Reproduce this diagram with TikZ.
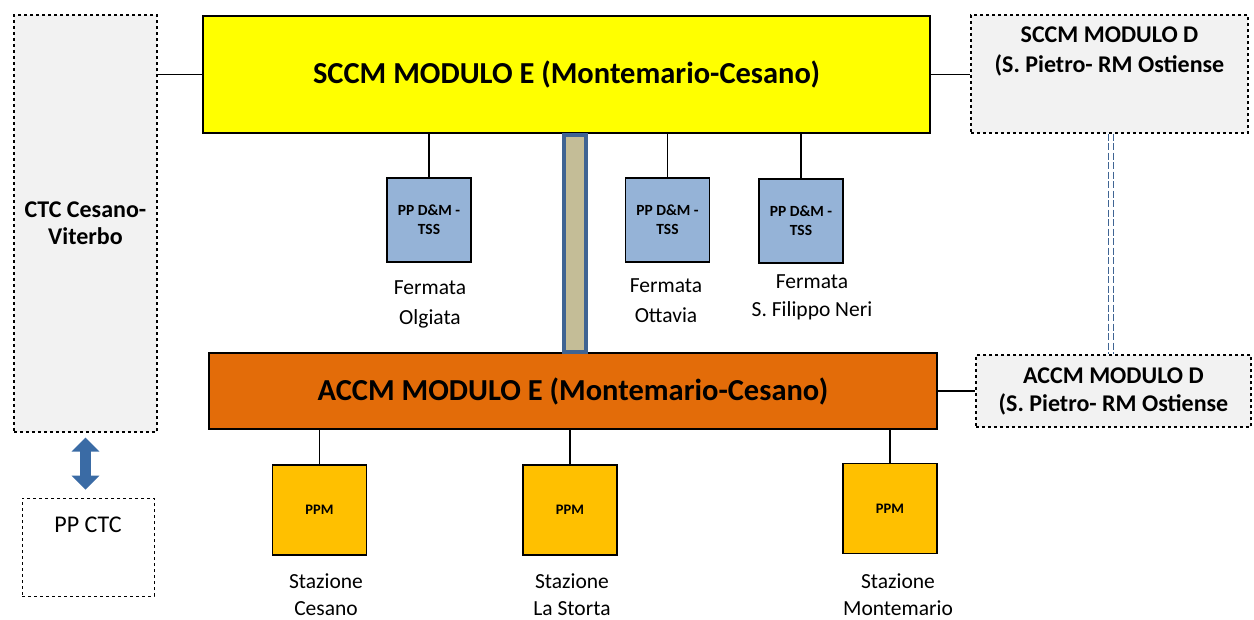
\documentclass[tikz,border=0pt]{standalone}
\usepackage{fontspec}
\setmainfont{Carlito}
\usetikzlibrary{arrows.meta}
\definecolor{sccmyellow}{HTML}{FFFF00}
\definecolor{accmorange}{HTML}{E36C09}
\definecolor{tssblue}{HTML}{95B3D7}
\definecolor{ppmgold}{HTML}{FFC000}
\definecolor{remotegray}{HTML}{F2F2F2}
\definecolor{bustan}{HTML}{C4BD97}
\definecolor{busblue}{HTML}{3F6493}
\definecolor{arrowblue}{HTML}{3A6BA5}
\begin{document}
\begin{tikzpicture}[
    x=1pt, y=-1pt,
    every node/.style={inner sep=2pt, align=center},
    module/.style={draw, line width=2pt, font=\fontsize{30.5}{36}\selectfont\bfseries},
    remote/.style={draw, dashed, line width=1.3pt, fill=remotegray},
    remotetext/.style={font=\fontsize{24}{30}\selectfont\bfseries},
    tssbox/.style={draw, line width=1.6pt, fill=tssblue, minimum width=84pt, minimum height=84pt, font=\fontsize{15.5}{19}\selectfont\bfseries},
    ppmbox/.style={draw, line width=1.6pt, fill=ppmgold, minimum width=94pt, minimum height=90pt, font=\fontsize{14.5}{19}\selectfont\bfseries},
    place/.style={font=\fontsize{21.5}{30}\selectfont},
    station/.style={font=\fontsize{21.5}{27}\selectfont, inner sep=0pt},
    link/.style={draw, line width=1.3pt},
    linkdash/.style={draw=busblue, line width=1.5pt, dash pattern=on 7pt off 2.5pt}
]
\useasboundingbox (0,0) rectangle (1254,619);

% upper level
\node[module, fill=sccmyellow, minimum width=727pt, minimum height=117pt] (sccmE) at (566.5,74.5) {SCCM MODULO E (Montemario-Cesano)};
\node[remote, remotetext, font=\fontsize{24}{27}\selectfont\bfseries, minimum width=143pt, minimum height=417pt] (ctc) at (85.5,223.5) {CTC Cesano-\\Viterbo};
\node[remote, minimum width=277pt, minimum height=118pt,
    label={[remotetext, anchor=north, yshift=-10pt]north:SCCM MODULO D\\(S. Pietro- RM Ostiense}] (sccmD) at (1109.5,74) {};

% lower level
\node[module, fill=accmorange, minimum width=728pt, minimum height=76pt] (accmE) at (573,391) {ACCM MODULO E (Montemario-Cesano)};
\node[remote, remotetext, font=\fontsize{24}{28}\selectfont\bfseries, minimum width=275pt, minimum height=72pt] (accmD) at (1113.5,391) {ACCM MODULO D\\(S. Pietro- RM Ostiense};
\node[draw, dashed, line width=0.8pt, fill=white, minimum width=132pt, minimum height=98pt,
    label={[font=\fontsize{24}{28}\selectfont, anchor=center, yshift=-27pt]north:PP CTC}] (ppctc) at (88,547) {};

% bus between the two levels
\node[draw=busblue, line width=4pt, fill=bustan, minimum width=22pt, minimum height=217pt, inner sep=0pt] (bus) at (574.5,243) {};

% stops
\node[tssbox] (tss1) at (429,220) {PP D\&M -\\TSS};
\node[tssbox] (tss2) at (667.5,220) {PP D\&M -\\TSS};
\node[tssbox] (tss3) at (801,221) {PP D\&M -\\TSS};
\node[place] (olgiata) at (430,304) {Fermata\\Olgiata};
\node[place] (ottavia) at (666,301) {Fermata\\Ottavia};
\node[place, font=\fontsize{21.5}{28}\selectfont] (filippo) at (812,297) {Fermata\\S. Filippo Neri};

% stations
\node[ppmbox] (ppm1) at (319.5,510) {PPM};
\node[ppmbox] (ppm2) at (570,510) {PPM};
\node[ppmbox] (ppm3) at (890,508.5) {PPM};
\node[station] (cesano) at (326,595) {Stazione\\Cesano};
\node[station] (storta) at (572,595) {Stazione\\La Storta};
\node[station] (montemario) at (898,595) {Stazione\\Montemario};

% connectors
\draw[link] (ctc.east |- sccmE.west) -- (sccmE.west);
\draw[link] (sccmE.east) -- (sccmD.west |- sccmE.east);
\draw[link] (accmE.east) -- (accmD.west);
\foreach \n in {tss1,tss2,tss3}
    \draw[link] (sccmE.south -| \n.north) -- (\n.north);
\foreach \n in {ppm1,ppm2,ppm3}
    \draw[link] (accmE.south -| \n.north) -- (\n.north);
\coordinate (dtop) at ([xshift=1.5pt]sccmD.south);
\foreach \dx in {-2.5,2.5}
    \draw[linkdash] ([xshift=\dx pt]dtop) -- ([xshift=\dx pt]dtop |- accmD.north);
\draw[arrowblue, line width=11pt, {Triangle[width=27pt,length=14pt]}-{Triangle[width=27pt,length=14pt]}, shorten <=5pt, shorten >=8pt] (ctc.south) -- (ctc.south |- ppctc.north);
\end{tikzpicture}
\end{document}
